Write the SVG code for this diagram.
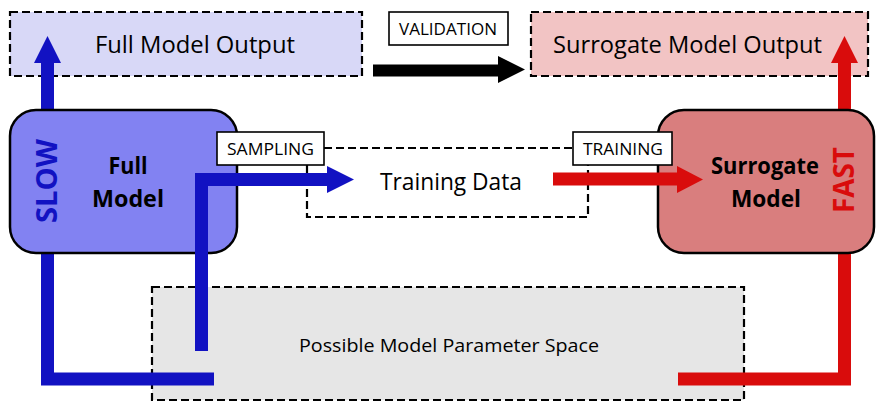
<svg xmlns="http://www.w3.org/2000/svg" width="877" height="402" viewBox="0 0 877 402">
  <style>
    text { font-family: "Open Sans", "Liberation Sans", sans-serif; fill: #000; }
    .dash { stroke: #000; stroke-width: 2.2; stroke-dasharray: 8 4; }
    .line { fill: none; }
    .tag { fill: #fff; stroke: #000; stroke-width: 1.6; }
    .tagtxt { font-size: 15.5px; text-anchor: middle; }
    .model { stroke: #000; stroke-width: 2.5; }
    .bold { font-weight: bold; font-size: 23.5px; text-anchor: middle; }
    .blue { stroke: #1212c2; fill: none; stroke-width: 13; }
    .red { stroke: #d90c0c; fill: none; stroke-width: 13; }
  </style>

  <!-- parameter space -->
  <g id="param-space">
    <rect x="152" y="287" width="592" height="113" style="fill:#e6e6e6" class="dash"/>
    <text x="449" y="352" font-size="18.5" text-anchor="middle" textLength="300" lengthAdjust="spacingAndGlyphs">Possible Model Parameter Space</text>
  </g>

  <!-- output boxes -->
  <g id="full-output">
    <rect x="10" y="12" width="352" height="64" style="fill:#d8d8f7" class="dash"/>
    <text x="195" y="53" font-size="23" text-anchor="middle" textLength="200" lengthAdjust="spacingAndGlyphs">Full Model Output</text>
  </g>
  <g id="surrogate-output">
    <rect x="531" y="12" width="337" height="64" style="fill:#f2c4c4" class="dash"/>
    <text x="687.5" y="53" font-size="23" text-anchor="middle" textLength="269" lengthAdjust="spacingAndGlyphs">Surrogate Model Output</text>
  </g>

  <!-- training data region -->
  <g id="training-data">
    <path d="M324 148 H573 M307 165 V217 H588 V165" class="dash line"/>
    <text x="451" y="190" font-size="23" text-anchor="middle" textLength="142" lengthAdjust="spacingAndGlyphs">Training Data</text>
  </g>

  <g id="connectors">
    <!-- slow path: parameter space to full model output -->
    <path d="M214 379 H47.5 V62" class="blue"/>
    <polygon points="34,63 61,63 47.5,36" fill="#1212c2"/>
    <!-- fast path: parameter space to surrogate output -->
    <path d="M678 379 H844.5 V62" class="red"/>
    <polygon points="831,63 858,63 844.5,36" fill="#d90c0c"/>
    <!-- validation -->
    <path d="M373 70.5 H500" stroke="#000" stroke-width="12" fill="none"/>
    <polygon points="498,56 498,83 525,69.5" fill="#000"/>
  </g>

  <g id="full-model">
    <rect x="10" y="110" width="227" height="143" rx="26" fill="#8282f2" class="model"/>
    <text x="128" y="174" class="bold" textLength="39" lengthAdjust="spacingAndGlyphs">Full</text>
    <text x="128" y="207" class="bold" textLength="72" lengthAdjust="spacingAndGlyphs">Model</text>
    <text transform="translate(57,181) rotate(-90)" font-size="28" font-weight="bold" text-anchor="middle" textLength="84" lengthAdjust="spacingAndGlyphs" style="fill:#1212c2">SLOW</text>
  </g>

  <g id="surrogate-model">
    <rect x="658" y="110" width="216" height="143" rx="26" fill="#d97e7e" class="model"/>
    <text x="765" y="174" class="bold" textLength="108" lengthAdjust="spacingAndGlyphs">Surrogate</text>
    <text x="766" y="207" class="bold" textLength="70" lengthAdjust="spacingAndGlyphs">Model</text>
    <text transform="translate(854,180) rotate(-90)" font-size="28" font-weight="bold" text-anchor="middle" textLength="66" lengthAdjust="spacingAndGlyphs" style="fill:#d90c0c">FAST</text>
  </g>

  <g id="flows">
    <!-- sampling from parameter space through the full model -->
    <path d="M201.5 351 V179.5 H330" class="blue"/>
    <polygon points="327,166 327,193 354,179.5" fill="#1212c2"/>
    <!-- training data into the surrogate -->
    <path d="M553 179 H680" class="red"/>
    <polygon points="677,166 677,193 703,179.5" fill="#d90c0c"/>
  </g>

  <g id="labels">
    <rect x="389" y="12" width="119" height="33" class="tag"/>
    <text x="448" y="35" class="tagtxt" textLength="98" lengthAdjust="spacingAndGlyphs">VALIDATION</text>
    <rect x="217" y="132" width="107" height="33" class="tag"/>
    <text x="270.5" y="155" class="tagtxt" textLength="87" lengthAdjust="spacingAndGlyphs">SAMPLING</text>
    <rect x="573" y="132" width="99" height="33" class="tag"/>
    <text x="623" y="155" class="tagtxt" textLength="80" lengthAdjust="spacingAndGlyphs">TRAINING</text>
  </g>
</svg>
